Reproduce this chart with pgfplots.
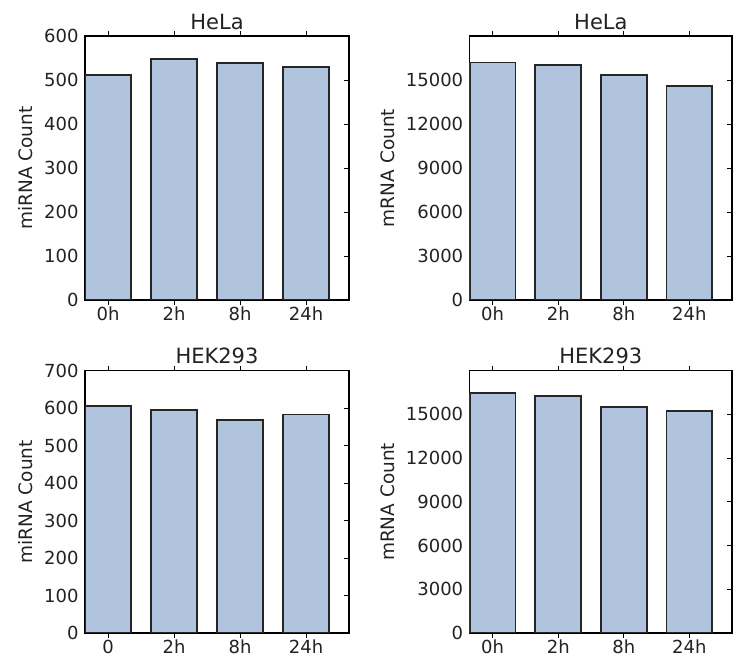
\documentclass[border=0pt]{standalone}
\usepackage{fontspec}
\setmainfont{DejaVu Sans}
\usepackage{pgfplots}
\pgfplotsset{compat=1.18}
\definecolor{barfill}{RGB}{176,196,222}
\definecolor{txt}{RGB}{34,34,34}
\newcommand{\tickf}{\fontsize{18}{21}\selectfont}
\newcommand{\labf}{\fontsize{18.5}{22}\selectfont}
\newcommand{\titf}{\fontsize{21}{25}\selectfont}
\pgfplotsset{
  panel/.style={
    scale only axis, anchor=south west,
    xmin=0, xmax=4, ymin=0,
    xtick={0.35,1.35,2.35,3.35},
    tick align=inside, tick pos=both,
    major tick length=5pt,
    every tick/.style={black, line width=0.9pt},
    axis line style={line width=1.2pt},
    ybar, bar width=0.7,
    scaled y ticks=false,
    /pgf/number format/assume math mode=true,
    /pgf/number format/1000 sep={},
    tick label style={text=txt, font=\tickf},
    label style={text=txt, font=\labf},
    title style={text=txt, font=\titf, yshift=-3pt},
    xticklabel style={inner sep=1pt, yshift=-1pt},
    yticklabel style={xshift=-3pt},
    ylabel style={yshift=4pt},
  },
}
\begin{document}
\begin{tikzpicture}
\useasboundingbox (0pt,0pt) rectangle (736pt,658pt);
% top-left
\begin{axis}[panel, at={(85pt,358pt)}, width=264pt, height=264pt,
  ymax=600, ytick={0,100,...,600}, ylabel={miRNA Count}, title={HeLa},
  xticklabels={0h,2h,8h,24h}]
\addplot[fill=barfill, draw=black!85, line width=1.7pt] coordinates {(0.35,511) (1.35,547) (2.35,538) (3.35,530)};
\end{axis}
% top-right
\begin{axis}[panel, at={(469.7pt,358pt)}, width=262.3pt, height=264pt,
  ymax=18000, ytick={0,3000,...,15000}, ylabel={mRNA Count}, title={HeLa},
  xticklabels={0h,2h,8h,24h}]
\addplot[fill=barfill, draw=black!85, line width=1.7pt] coordinates {(0.35,16200) (1.35,16020) (2.35,15340) (3.35,14570)};
\end{axis}
% bottom-left
\begin{axis}[panel, at={(85pt,25pt)}, width=264pt, height=262.3pt,
  ymax=700, ytick={0,100,...,700}, ylabel={miRNA Count}, title={HEK293},
  xticklabels={0,2h,8h,24h}]
\addplot[fill=barfill, draw=black!85, line width=1.7pt] coordinates {(0.35,606) (1.35,595) (2.35,569) (3.35,583)};
\end{axis}
% bottom-right
\begin{axis}[panel, at={(469.7pt,25pt)}, width=262.3pt, height=262.3pt,
  ymax=18000, ytick={0,3000,...,15000}, ylabel={mRNA Count}, title={HEK293},
  xticklabels={0h,2h,8h,24h}]
\addplot[fill=barfill, draw=black!85, line width=1.7pt] coordinates {(0.35,16470) (1.35,16240) (2.35,15490) (3.35,15230)};
\end{axis}
\end{tikzpicture}
\end{document}
